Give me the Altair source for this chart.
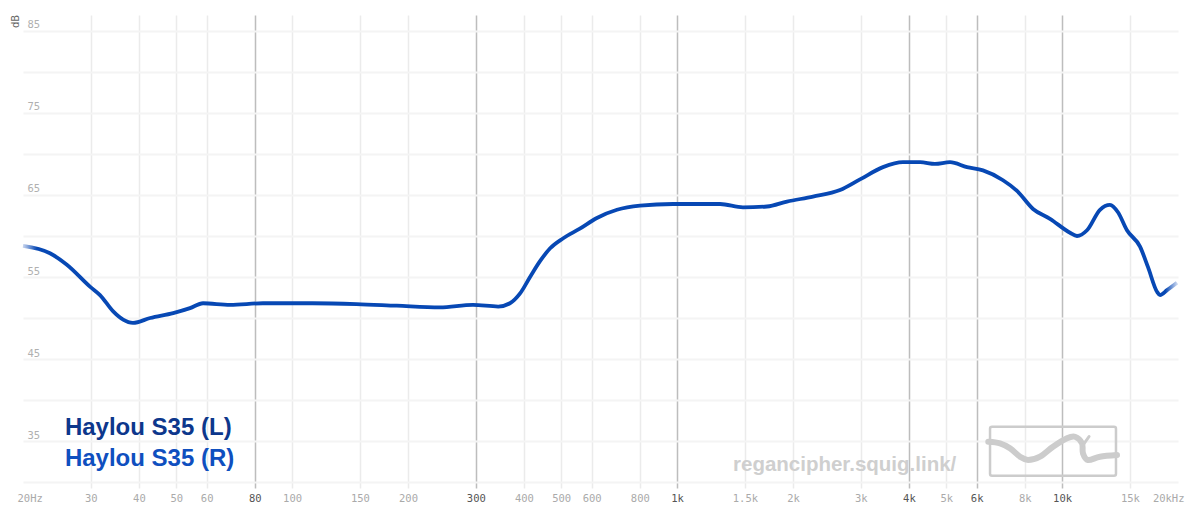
import altair as alt
import pandas as pd

# Frequency response
freq = [20, 23.5, 26.0, 29.9, 31.7, 34.3, 36.4, 38.6, 42.8, 49.1, 54.3, 58.7, 69.0, 84.0, 113, 147, 187, 242,
        295, 343, 368, 391, 415, 440, 468, 505, 559, 619, 698, 801, 976, 1293, 1483, 1712, 1929, 2254, 2650,
        2986, 3426, 3861, 4276, 4676, 5115, 5662, 6230, 7023, 7637, 8404, 9302, 10484, 10932, 11606, 12543,
        13316, 13968, 14740, 15938, 16718, 17642, 17962, 18732, 19880]
spl = [58.8, 57.9, 56.5, 53.8, 52.8, 50.8, 49.8, 49.4, 50.0, 50.6, 51.2, 51.8, 51.6, 51.8, 51.8, 51.7, 51.5, 51.3,
       51.6, 51.4, 51.8, 53.0, 55.0, 56.9, 58.5, 59.7, 60.9, 62.2, 63.2, 63.7, 63.9, 63.9, 63.5, 63.6, 64.2, 64.8,
       65.6, 66.9, 68.4, 69.0, 69.0, 68.8, 69.0, 68.4, 68.0, 66.8, 65.5, 63.3, 62.1, 60.4, 60.0, 60.7, 63.2,
       63.8, 62.9, 60.7, 58.7, 56.2, 53.2, 52.8, 53.4, 54.3]

# Axis ticks
x_ticks = [20, 30, 40, 50, 60, 80, 100, 150, 200, 300, 400, 500, 600, 800, 1000, 1500, 2000, 3000, 4000,
           5000, 6000, 8000, 10000, 15000, 20000]
x_labels = ["20Hz", "30", "40", "50", "60", "80", "100", "150", "200", "300", "400", "500", "600", "800",
            "1k", "1.5k", "2k", "3k", "4k", "5k", "6k", "8k", "10k", "15k", "20kHz"]
x_major = [80, 300, 1000, 4000, 6000, 10000]
y_ticks = [30, 35, 40, 45, 50, 55, 60, 65, 70, 75, 80, 85]

# Legend entries
legend_names = ["Haylou S35 (L)", "Haylou S35 (R)"]
legend_colors = ["#0d378c", "#0f4fbf"]
legend_freq = [25.7, 25.7]
legend_db = [35.7, 31.9]

# Watermark
wm_text = ["regancipher.squig.link/"]
wm_freq = [1397]
wm_db = [31.3]
logo_box = {"f1": [6498], "f2": [13802], "d1": [36.74], "d2": [30.77]}
logo_freq = [6432, 6898, 7322, 7775, 8155, 8761, 9471, 10298, 10802, 11264, 11330, 11674, 12543, 13884]
logo_db = [34.91, 34.72, 34.11, 33.09, 32.68, 33.09, 34.3, 35.33, 35.52, 34.72, 33.5, 32.68, 33.09, 33.29]
logo_tick_freq = [11330, 11750]
logo_tick_db = [34.5, 35.55]

curve = pd.DataFrame({"freq": freq, "spl": spl})
legend_df = pd.DataFrame({"name": legend_names, "color": legend_colors, "freq": legend_freq, "db": legend_db})
wm_df = pd.DataFrame({"t": wm_text, "freq": wm_freq, "db": wm_db})
box_df = pd.DataFrame(logo_box)
logo_df = pd.DataFrame({"freq": logo_freq, "db": logo_db, "i": list(range(len(logo_freq)))})
tick_df = pd.DataFrame({"freq": logo_tick_freq, "db": logo_tick_db, "i": [0, 1]})

major_test = "indexof(" + str(x_major) + ", datum.value) >= 0"
edge_test = "datum.value == 20 || datum.value == 20000"
label_expr = "[" + ",".join("'" + s + "'" for s in x_labels) + "][indexof(" + str(x_ticks) + ", datum.value)]"

x_scale = alt.Scale(type="log", domain=[20, 20000], nice=False)
y_scale = alt.Scale(domain=[29.27, 86.95], nice=False, zero=False)

x_axis = alt.Axis(
    values=x_ticks, labelExpr=label_expr, title=None, domain=False, ticks=False,
    labelFont="DejaVu Sans Mono", labelFontSize=10.5, labelPadding=5,
    labelFlush=True, labelFlushOffset=6,
    labelColor={"condition": {"test": major_test, "value": "#555555"}, "value": "#aaaaaa"},
    gridColor={"condition": {"test": major_test, "value": "#bdbdbd"}, "value": "#ebebeb"},
    gridOpacity={"condition": {"test": edge_test, "value": 0}, "value": 1},
    gridWidth=1.5,
)
y_axis = alt.Axis(
    values=y_ticks, labelExpr="datum.value % 10 == 5 ? datum.label : ''",
    title="dB", titleFont="DejaVu Sans", titleFontSize=10, titleFontWeight="normal", titleColor="#666666",
    titleX=-7.5, titleY=6, titleAngle=270, titleAlign="center", titleBaseline="middle",
    domain=False, ticks=False, labelAlign="left", labelPadding=-4, labelBaseline="alphabetic", labelOffset=-3,
    labelFont="DejaVu Sans Mono", labelFontSize=10.5, labelColor="#b0b0b0",
    gridColor="#f4f4f4", gridWidth=2,
)

X = alt.X("freq:Q", scale=x_scale, axis=x_axis)
Y = alt.Y("spl:Q", scale=y_scale, axis=y_axis)

gradient = alt.LinearGradient(
    gradient="linear", x1=0, y1=0, x2=1, y2=0,
    stops=[alt.GradientStop(offset=0, color="#c9d6ef"),
           alt.GradientStop(offset=0.012, color="#0748b4"),
           alt.GradientStop(offset=0.99, color="#0748b4"),
           alt.GradientStop(offset=1, color="#c9d6ef")])

line = alt.Chart(curve).mark_line(color=gradient, strokeWidth=3.8, interpolate="monotone").encode(x=X, y=Y)

wm = alt.Chart(wm_df).mark_text(
    align="left", baseline="alphabetic", font="Liberation Sans", fontWeight="bold", fontSize=20.5,
    color="#cfcfcf").encode(x="freq:Q", y="db:Q", text="t:N")

box = alt.Chart(box_df).mark_rect(filled=False, stroke="#cccccc", strokeWidth=2.5, cornerRadius=2).encode(
    x="f1:Q", x2="f2:Q", y="d1:Q", y2="d2:Q")

squiggle = alt.Chart(logo_df).mark_line(color="#cccccc", strokeWidth=6, strokeCap="round",
                                         interpolate="cardinal").encode(x="freq:Q", y="db:Q", order="i:O")
tick = alt.Chart(tick_df).mark_line(color="#cccccc", strokeWidth=3, strokeCap="round").encode(
    x="freq:Q", y="db:Q", order="i:O")

legend = alt.Chart(legend_df).mark_text(
    align="left", baseline="alphabetic", font="Liberation Sans", fontWeight="bold", fontSize=24).encode(
    x="freq:Q", y="db:Q", text="name:N", color=alt.Color("color:N", scale=None))

chart = alt.layer(line, wm, box, squiggle, tick, legend).properties(
    width=1155, height=473,
    autosize=alt.AutoSizeParams(type="none"),
    padding={"left": 15, "top": 7, "right": 14, "bottom": 22},
    background="white",
).configure_view(stroke=None)

chart.save("out.html", embed_options={"renderer": "svg", "actions": False})
